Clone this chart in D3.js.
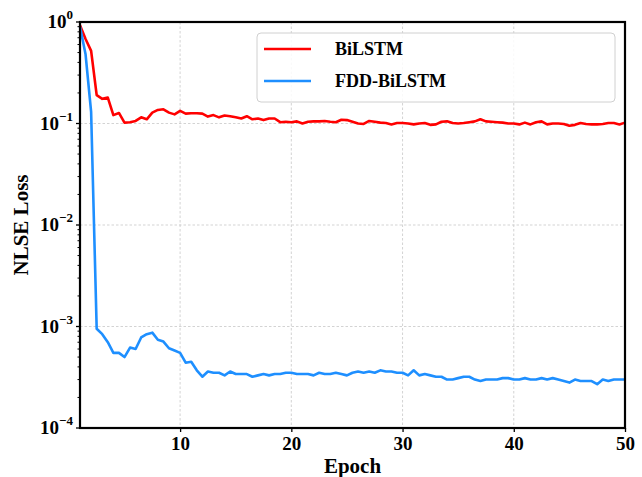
<!DOCTYPE html>
<html>
<head>
<meta charset="utf-8">
<script src="https://cdn.jsdelivr.net/npm/d3@7"></script>
<style>
  body { margin: 0; background: #fff; }
  svg { display: block; }
  text { font-family: "Liberation Serif", "Times New Roman", serif; font-weight: bold; }
</style>
</head>
<body>
<div id="chart"></div>
<script>
(function () {
  'use strict';

  // epochs sampled every half epoch
  var epochs = d3.range(1, 50.01, 0.5);

  var bilstm = [
    0.93, 0.68, 0.52, 0.19, 0.175, 0.18, 0.121, 0.127, 0.102, 0.103,
    0.106, 0.115, 0.11, 0.128, 0.136, 0.138, 0.128, 0.123, 0.133, 0.125,
    0.126, 0.126, 0.125, 0.117, 0.121, 0.115, 0.12, 0.118, 0.115, 0.112,
    0.118, 0.11, 0.112, 0.108, 0.112, 0.112, 0.103, 0.104, 0.103, 0.105,
    0.1, 0.104, 0.105, 0.105, 0.106, 0.104, 0.103, 0.109, 0.108, 0.104,
    0.1, 0.099, 0.106, 0.104, 0.102, 0.101, 0.098, 0.101, 0.101, 0.1,
    0.098, 0.1, 0.101, 0.097, 0.098, 0.104, 0.105, 0.101, 0.1, 0.101,
    0.103, 0.105, 0.11, 0.105, 0.104, 0.103, 0.102, 0.1, 0.1, 0.098,
    0.102, 0.098, 0.103, 0.105, 0.098, 0.1, 0.1, 0.099, 0.095, 0.097,
    0.101, 0.099, 0.098, 0.098, 0.099, 0.101, 0.101, 0.098, 0.102
  ];

  var fddBilstm = [
    0.9, 0.48, 0.13, 0.00095, 0.00084, 0.0007, 0.00055, 0.00055, 0.0005, 0.00062,
    0.0006, 0.00078, 0.00084, 0.00087, 0.00074, 0.00071, 0.00061, 0.00058, 0.00055, 0.00044,
    0.00045, 0.00037, 0.00032, 0.00036, 0.00035, 0.00035, 0.00033, 0.00036, 0.00034, 0.00034,
    0.00034, 0.00032, 0.00033, 0.00034, 0.00033, 0.00034, 0.00034, 0.00035, 0.00035, 0.00034,
    0.00034, 0.00034, 0.00033, 0.00035, 0.00034, 0.00034, 0.00035, 0.00034, 0.00033, 0.00035,
    0.00036, 0.00035, 0.00036, 0.00035, 0.00037, 0.00036, 0.00036, 0.00035, 0.00035, 0.00033,
    0.00037, 0.00033, 0.00034, 0.00033, 0.00032, 0.00032, 0.0003, 0.0003, 0.00031, 0.00032,
    0.00032, 0.0003, 0.00029, 0.0003, 0.0003, 0.0003, 0.00031, 0.00031, 0.0003, 0.0003,
    0.00031, 0.0003, 0.0003, 0.00031, 0.0003, 0.00031, 0.0003, 0.00029, 0.00028, 0.0003,
    0.00029, 0.00029, 0.00029, 0.00027, 0.0003, 0.00029, 0.0003, 0.0003, 0.0003
  ];

  var xTicks = [10, 20, 30, 40, 50];
  var yExponents = [0, -1, -2, -3, -4];
  var seriesNames = ["BiLSTM", "FDD-BiLSTM"];
  var seriesColors = ["#ff0000", "#1e8fff"];

  var width = 642, height = 477;
  var margin = { top: 22, right: 17, bottom: 49, left: 80 };
  var plotW = width - margin.left - margin.right;
  var plotH = height - margin.top - margin.bottom;

  var svg = d3.select("#chart").append("svg")
      .attr("width", width)
      .attr("height", height);

  var g = svg.append("g")
      .attr("transform", "translate(" + margin.left + "," + margin.top + ")");

  var x = d3.scaleLinear().domain([1, 50]).range([0, plotW]);
  var y = d3.scaleLog().domain([1e-4, 1]).range([plotH, 0]);

  ///////////////////////////////////////////////
  // grid
  ///////////////////////////////////////////////
  g.selectAll(".vgrid")
      .data(xTicks.slice(0, -1))
      .enter().append("line")
        .attr("class", "vgrid")
        .attr("x1", function(d) { return x(d); })
        .attr("x2", function(d) { return x(d); })
        .attr("y1", 0).attr("y2", plotH)
        .attr("stroke", "#c8c8c8")
        .attr("stroke-width", 0.8)
        .attr("stroke-dasharray", "2.5,2");

  g.selectAll(".hgrid")
      .data(yExponents.slice(1, -1))
      .enter().append("line")
        .attr("class", "hgrid")
        .attr("x1", 0).attr("x2", plotW)
        .attr("y1", function(d) { return y(Math.pow(10, d)); })
        .attr("y2", function(d) { return y(Math.pow(10, d)); })
        .attr("stroke", "#c8c8c8")
        .attr("stroke-width", 0.8)
        .attr("stroke-dasharray", "2.5,2");

  ///////////////////////////////////////////////
  // lines
  ///////////////////////////////////////////////
  var line = d3.line()
      .x(function(d) { return x(d[0]); })
      .y(function(d) { return y(d[1]); });

  [bilstm, fddBilstm].forEach(function(vals, i) {
    g.append("path")
        .datum(epochs.map(function(e, j) { return [e, vals[j]]; }))
        .attr("fill", "none")
        .attr("stroke", seriesColors[i])
        .attr("stroke-width", 2.6)
        .attr("stroke-linejoin", "round")
        .attr("d", line);
  });

  ///////////////////////////////////////////////
  // axes
  ///////////////////////////////////////////////
  var xAxis = g.append("g")
      .attr("transform", "translate(0," + plotH + ")")
      .call(d3.axisBottom(x).tickValues(xTicks).tickSize(4).tickSizeOuter(0).tickPadding(5));
  xAxis.select(".domain").remove();
  xAxis.selectAll(".tick line").attr("stroke", "#000").attr("stroke-width", 1.3);
  xAxis.selectAll(".tick text")
      .attr("font-size", "19px")
      .attr("fill", "#000")
      .attr("font-family", "Liberation Serif, serif");

  // minor log ticks
  var minorVals = [];
  yExponents.slice(1).forEach(function(p) {
    for (var k = 2; k <= 9; k++) minorVals.push(k * Math.pow(10, p));
  });
  g.selectAll(".yminor")
      .data(minorVals)
      .enter().append("line")
        .attr("x1", -2.5).attr("x2", 0)
        .attr("y1", function(d) { return y(d); })
        .attr("y2", function(d) { return y(d); })
        .attr("stroke", "#000")
        .attr("stroke-width", 1);

  var yMajor = g.selectAll(".ymajor")
      .data(yExponents)
      .enter().append("g")
        .attr("class", "ymajor")
        .attr("transform", function(d) { return "translate(0," + y(Math.pow(10, d)) + ")"; });

  yMajor.append("line")
      .attr("x1", -4).attr("x2", 0)
      .attr("stroke", "#000")
      .attr("stroke-width", 1.3);

  var lbl = yMajor.append("text")
      .attr("x", -7)
      .attr("y", 6)
      .attr("text-anchor", "end")
      .attr("font-size", "19px")
      .attr("fill", "#000");
  lbl.append("tspan").text("10");
  lbl.append("tspan")
      .attr("dy", -9)
      .attr("font-size", "13px")
      .text(function(d) { return d === 0 ? "0" : "\u2212" + (-d); });

  // frame
  g.append("rect")
      .attr("width", plotW)
      .attr("height", plotH)
      .attr("fill", "none")
      .attr("stroke", "#000")
      .attr("stroke-width", 2.2);

  // axis titles
  svg.append("text")
      .attr("x", margin.left + plotW / 2)
      .attr("y", 473)
      .attr("text-anchor", "middle")
      .attr("font-size", "21px")
      .text("Epoch");

  svg.append("text")
      .attr("transform", "translate(28," + (margin.top + plotH / 2) + ")rotate(-90)")
      .attr("text-anchor", "middle")
      .attr("font-size", "21px")
      .text("NLSE Loss");

  ///////////////////////////////////////////////
  // legend
  ///////////////////////////////////////////////
  var legend = svg.append("g").attr("transform", "translate(257,33)");
  legend.append("rect")
      .attr("width", 358)
      .attr("height", 69)
      .attr("rx", 4)
      .attr("fill", "#fff")
      .attr("fill-opacity", 0.85)
      .attr("stroke", "#d0d0d0")
      .attr("stroke-width", 1);

  var items = legend.selectAll(".item")
      .data(seriesNames)
      .enter().append("g")
        .attr("transform", function(d, i) { return "translate(0," + (16 + i * 32) + ")"; });
  items.append("line")
      .attr("x1", 7).attr("x2", 54)
      .attr("stroke", function(d, i) { return seriesColors[i]; })
      .attr("stroke-width", 2.6);
  items.append("text")
      .attr("x", 78)
      .attr("y", 6)
      .attr("font-size", "18px")
      .text(function(d) { return d; });

}());
</script>
</body>
</html>
